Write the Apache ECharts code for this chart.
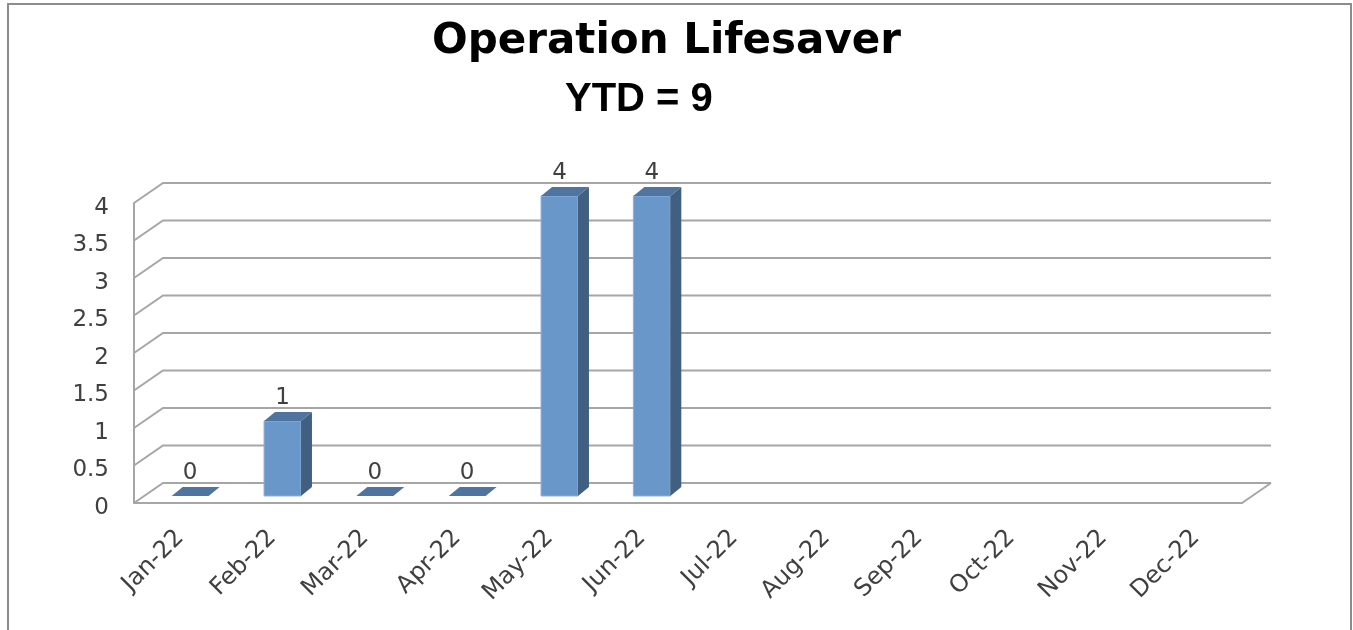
<!DOCTYPE html>
<html>
<head>
<meta charset="utf-8">
<script src="https://cdn.jsdelivr.net/npm/echarts@6/dist/echarts.min.js"></script>
<style>
  html, body { margin: 0; padding: 0; background: #fff; }
  #chart { width: 1353px; height: 630px; }
</style>
</head>
<body>
<div id="chart"></div>
<script>
// chart data
const months = ["Jan-22", "Feb-22", "Mar-22", "Apr-22", "May-22", "Jun-22",
  "Jul-22", "Aug-22", "Sep-22", "Oct-22", "Nov-22", "Dec-22"];
const counts = [0, 1, 0, 0, 4, 4, null, null, null, null, null, null];
const yTicks = [0, 0.5, 1, 1.5, 2, 2.5, 3, 3.5, 4];
const titleLines = ["Operation Lifesaver", "YTD = 9"];

// fake 3d look (wall depth and bar depth, in px)
const WALL_DX = 29, WALL_DY = 20;
const BAR_SHIFT_X = 10, BAR_SHIFT_Y = 7;
const BAR_DX = 11, BAR_DY = 9;
const gridColor = "#a6a6a6";
const labelFont = "DejaVu Sans";

const chart = echarts.init(document.getElementById("chart"));

function renderWall(params, api) {
  const cs = params.coordSys;
  const v = api.value(0);
  const y = api.coord([0, v])[1];
  const children = [{
    type: "polyline",
    shape: { points: [[cs.x, y], [cs.x + WALL_DX, y - WALL_DY], [cs.x + cs.width + WALL_DX, y - WALL_DY]] },
    style: { stroke: gridColor, lineWidth: 2, fill: null }
  }];
  if (v === 0) {
    // floor right edge
    children.push({
      type: "polyline",
      shape: { points: [[cs.x + cs.width, y], [cs.x + cs.width + WALL_DX, y - WALL_DY]] },
      style: { stroke: gridColor, lineWidth: 2, fill: null }
    });
  }
  return { type: "group", children: children };
}

function renderBar(params, api) {
  const val = api.value(1);
  if (val == null || isNaN(val)) return;
  const idx = api.value(0);
  const base = api.coord([idx, 0]);
  const top = api.coord([idx, val]);
  const w = api.size([1, 0])[0] * 0.4;
  const xl = base[0] - w / 2 + BAR_SHIFT_X;
  const xr = xl + w;
  const yb = base[1] - BAR_SHIFT_Y;
  const yt = top[1] - BAR_SHIFT_Y;
  const children = [];
  if (val > 0) {
    children.push({
      type: "rect",
      shape: { x: xl, y: yt, width: w, height: yb - yt },
      style: { fill: "#6a97ca", stroke: "#8fb1da", lineWidth: 1 }
    });
    children.push({
      type: "polygon",
      shape: { points: [[xr, yt], [xr + BAR_DX, yt - BAR_DY], [xr + BAR_DX, yb - BAR_DY], [xr, yb]] },
      style: { fill: "#415f80" }
    });
  }
  children.push({
    type: "polygon",
    shape: { points: [[xl, yt], [xl + BAR_DX, yt - BAR_DY], [xr + BAR_DX, yt - BAR_DY], [xr, yt]] },
    style: { fill: "#4f74a0" }
  });
  children.push({
    type: "text",
    style: {
      text: String(val),
      x: (xl + xr) / 2,
      y: yt - BAR_DY - 2,
      align: "center",
      verticalAlign: "bottom",
      font: "23px '" + labelFont + "'",
      fill: "#404040"
    }
  });
  return { type: "group", children: children };
}

const option = {
  animation: false,
  backgroundColor: "#fff",
  title: [
    {
      text: titleLines[0],
      left: 432, top: 21, padding: 0,
      textStyle: { fontFamily: "DejaVu Sans", fontWeight: "bold", fontSize: 42, color: "#000" }
    },
    {
      text: titleLines[1],
      left: 565, top: 80, padding: 0,
      textStyle: { fontFamily: "Liberation Sans", fontWeight: "bold", fontSize: 40, color: "#000" }
    }
  ],
  graphic: [{
    type: "rect",
    shape: { x: 8, y: 4, width: 1343, height: 700 },
    style: { fill: null, stroke: "#8c8c8c", lineWidth: 2 },
    silent: true
  }],
  grid: { left: 134, right: 111, top: 203, bottom: 127 },
  xAxis: {
    type: "category",
    data: months,
    axisLine: { show: true, lineStyle: { color: gridColor, width: 2 } },
    axisTick: { show: false },
    axisLabel: {
      rotate: 45,
      margin: 31,
      padding: [43, 0, 0, 0],
      fontFamily: labelFont,
      fontSize: 24,
      color: "#404040"
    },
    splitLine: { show: false }
  },
  yAxis: {
    type: "value",
    min: 0,
    max: 4,
    interval: 0.5,
    axisLine: { show: true, lineStyle: { color: gridColor, width: 2 } },
    axisTick: { show: false },
    splitLine: { show: false },
    axisLabel: {
      margin: 25,
      formatter: "{v|{value}}",
      rich: {
        v: { fontFamily: labelFont, fontSize: 23, color: "#404040", padding: [10, 0, 0, 0] }
      }
    }
  },
  series: [
    {
      type: "custom",
      name: "wall",
      renderItem: renderWall,
      data: yTicks.map(function (t) { return [t]; }),
      encode: { y: 0 },
      silent: true,
      z: 1
    },
    {
      type: "custom",
      name: "Operation Lifesaver",
      renderItem: renderBar,
      data: counts.map(function (c, i) { return [i, c]; }),
      encode: { x: 0, y: 1 },
      z: 3
    }
  ]
};

chart.setOption(option);
</script>
</body>
</html>
